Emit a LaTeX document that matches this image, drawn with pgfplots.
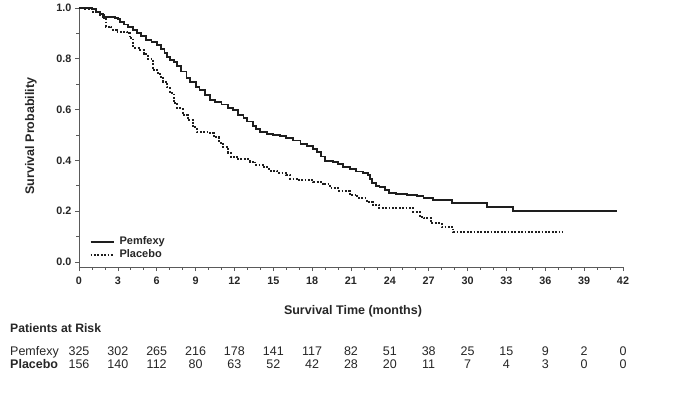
\documentclass[border=0pt]{standalone}
\usepackage{pgfplots}
\pgfplotsset{compat=1.18}
\usepackage{fontspec}
\setmainfont{Liberation Sans}
\definecolor{ink}{HTML}{1E1E1E}
\definecolor{txt}{HTML}{262626}
\definecolor{axgray}{HTML}{5A5A5A}
\begin{document}
\begin{tikzpicture}[x=1pt,y=1pt]
\useasboundingbox (-79,-129) rectangle (603,267);
\begin{axis}[
  at={(0,0)}, anchor=south west,
  scale only axis, width=544pt, height=259pt,
  xmin=0, xmax=42, ymin=-0.02, ymax=1.0,
  axis x line=bottom, axis y line=left,
  axis line style={-, axgray, line width=0.8pt},
  xtick={0,3,...,42}, minor x tick num=2,
  ytick={0,0.2,0.4,0.6,0.8,1.0}, minor y tick num=1,
  tick align=outside,
  major tick length=4pt, minor tick length=2.5pt,
  every tick/.style={axgray, line width=0.7pt},
  /pgf/number format/assume math mode=true,
  ticklabel style={font=\bfseries\fontsize{10.8}{12}\selectfont, text=txt},
  xticklabel style={yshift=-2pt, text height=7.8pt, text depth=0pt},
  yticklabel style={/pgf/number format/.cd, fixed, fixed zerofill, precision=1},
  clip=false,
  legend style={at={(axis cs:0.8,0.103)}, anchor=north west, draw=none, fill=none,
    inner xsep=0pt, inner ysep=0pt, row sep=1.5pt,
    font=\bfseries\fontsize{11}{12}\selectfont, text=txt,
    nodes={inner sep=1pt}},
  legend cell align=left,
  legend image code/.code={\draw[#1] (0pt,0pt) -- (23pt,0pt); \path (27pt,0pt);},
]
\addplot[const plot, ink, line width=1.9pt] coordinates {
(0,1.0) (0.85,1.0) (1.0,0.995) (1.3,0.985) (1.6,0.975) (1.85,0.966) (2.8,0.962)
(3.0,0.955) (3.2,0.946) (3.5,0.935) (3.8,0.925) (4.2,0.913) (4.5,0.902) (4.8,0.89)
(5.2,0.874) (5.6,0.865) (6.0,0.854) (6.3,0.84) (6.6,0.822) (6.8,0.807) (7.0,0.795)
(7.3,0.788) (7.6,0.77) (7.9,0.75) (8.3,0.723) (8.6,0.71) (9.0,0.69) (9.3,0.677)
(9.7,0.657) (10.1,0.638) (10.5,0.63) (11.0,0.62) (11.5,0.605) (11.9,0.598)
(12.3,0.58) (12.7,0.567) (13.0,0.553) (13.4,0.535) (13.7,0.522) (14.0,0.512)
(14.5,0.505) (15.0,0.5) (15.5,0.495) (16.0,0.487) (16.5,0.478) (17.1,0.466)
(17.6,0.455) (18.1,0.443) (18.35,0.434) (18.7,0.415) (19.0,0.398) (19.6,0.395)
(20.0,0.385) (20.4,0.375) (20.9,0.366) (21.4,0.356) (21.9,0.35) (22.3,0.343)
(22.45,0.325) (22.6,0.31) (22.9,0.3) (23.2,0.294) (23.6,0.283) (23.9,0.273)
(24.5,0.266) (25.3,0.262) (26.1,0.258) (26.6,0.252) (27.3,0.244) (28.8,0.233)
(31.5,0.218) (33.5,0.2) (41.5,0.2)
};
\addlegendentry{Pemfexy}
\addplot[const plot, ink, line width=2pt, dash pattern=on 1.8pt off 1.6pt] coordinates {
(0,1.0) (0.5,0.995) (1.0,0.985) (1.6,0.972) (1.9,0.955) (2.1,0.926) (2.5,0.915)
(2.9,0.907) (3.7,0.9) (3.9,0.88) (4.2,0.843) (4.6,0.835) (5.0,0.82) (5.3,0.8)
(5.7,0.756) (6.0,0.745) (6.25,0.73) (6.5,0.71) (6.8,0.689) (7.0,0.665) (7.3,0.626)
(7.6,0.605) (8.0,0.579) (8.4,0.56) (8.8,0.53) (9.1,0.512) (10.1,0.508) (10.4,0.49)
(10.8,0.47) (11.1,0.454) (11.5,0.43) (11.7,0.415) (12.2,0.404) (13.2,0.395)
(13.6,0.382) (14.2,0.372) (14.7,0.36) (15.3,0.352) (16.0,0.343) (16.3,0.328)
(17.0,0.322) (18.1,0.316) (18.8,0.305) (19.4,0.29) (20.0,0.28) (20.9,0.264)
(21.5,0.25) (22.2,0.237) (22.7,0.225) (23.2,0.211) (25.8,0.198) (26.3,0.178)
(26.6,0.172) (27.2,0.152) (28.0,0.137) (28.9,0.117) (37.3,0.117)
};
\addlegendentry{Placebo}
\end{axis}
\node[rotate=90, font=\bfseries\fontsize{12.5}{14}\selectfont, text=txt] at (-48,131) {Survival Probability};
\node[font=\bfseries\fontsize{12.5}{14}\selectfont, text=txt] at (274,-44) {Survival Time (months)};
\node[anchor=base west, inner sep=0pt, font=\bfseries\fontsize{12.2}{14}\selectfont, text=txt] at (-69,-65) {Patients at Risk};
\node[anchor=base west, inner sep=0pt, font=\fontsize{12.5}{14}\selectfont, text=txt] at (-69,-88) {Pemfexy};
\node[anchor=base west, inner sep=0pt, font=\bfseries\fontsize{12.5}{14}\selectfont, text=txt] at (-69,-101) {Placebo};
\foreach \m/\a/\b in {0/325/156, 3/302/140, 6/265/112, 9/216/80, 12/178/63, 15/141/52, 18/117/42, 21/82/28, 24/51/20, 27/38/11, 30/25/7, 33/15/4, 36/9/3, 39/2/0, 42/0/0} {
  \node[anchor=base, inner sep=0pt, font=\fontsize{12.5}{14}\selectfont, text=txt] at (\m*12.952,-88) {\a};
  \node[anchor=base, inner sep=0pt, font=\fontsize{12.5}{14}\selectfont, text=txt] at (\m*12.952,-101) {\b};
}
\end{tikzpicture}
\end{document}
